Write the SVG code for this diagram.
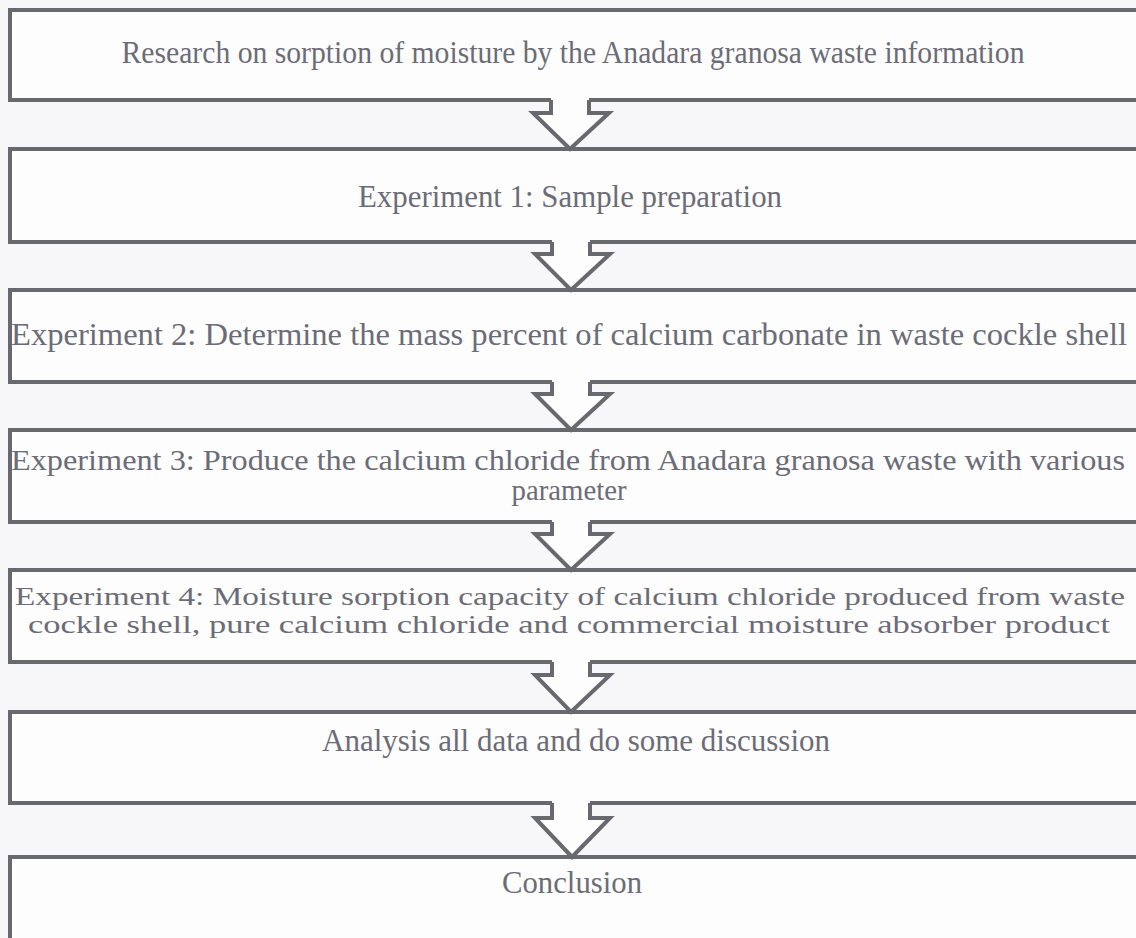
<svg xmlns="http://www.w3.org/2000/svg" width="1136" height="938" viewBox="0 0 1136 938">
<style>
.box{fill:#fdfdfe;stroke:#68686f;stroke-width:4}
.t{font-family:"Liberation Serif","Times New Roman",serif;font-size:31px;fill:#6c6c76;text-anchor:middle}
.s{font-size:29px}
.xs{font-size:26px}
.ah{fill:#fdfdfe;stroke:none}
.al{fill:none;stroke:#68686f;stroke-width:4;stroke-linejoin:miter}
</style>
<rect width="1136" height="938" fill="#f7f7f9"/>
<g id="n1"><rect class="box" x="10" y="10" width="1150" height="90"/><text class="t" x="573" y="63" textLength="903" lengthAdjust="spacingAndGlyphs">Research on sorption of moisture by the Anadara granosa waste information</text></g>
<g id="n2"><rect class="box" x="10" y="149" width="1150" height="93"/><text class="t" x="570" y="207" textLength="424" lengthAdjust="spacingAndGlyphs">Experiment 1: Sample preparation</text></g>
<g id="n3"><rect class="box" x="10" y="290" width="1150" height="92"/><text class="t" x="569" y="345" textLength="1116" lengthAdjust="spacingAndGlyphs">Experiment 2: Determine the mass percent of calcium carbonate in waste cockle shell</text></g>
<g id="n4"><rect class="box" x="10" y="430" width="1150" height="92"/><text class="t s" x="568" y="470" textLength="1114" lengthAdjust="spacingAndGlyphs">Experiment 3: Produce the calcium chloride from Anadara granosa waste with various</text><text class="t s" x="569" y="500" textLength="115" lengthAdjust="spacingAndGlyphs">parameter</text></g>
<g id="n5"><rect class="box" x="10" y="570" width="1150" height="92"/><text class="t xs" x="570" y="605" textLength="1110" lengthAdjust="spacingAndGlyphs">Experiment 4: Moisture sorption capacity of calcium chloride produced from waste</text><text class="t xs" x="569" y="633" textLength="1082" lengthAdjust="spacingAndGlyphs">cockle shell, pure calcium chloride and commercial moisture absorber product</text></g>
<g id="n6"><rect class="box" x="10" y="712" width="1150" height="91"/><text class="t" x="576" y="751" textLength="508" lengthAdjust="spacingAndGlyphs">Analysis all data and do some discussion</text></g>
<g id="n7"><rect class="box" x="10" y="857" width="1150" height="110"/><text class="t" x="572" y="893" textLength="140" lengthAdjust="spacingAndGlyphs">Conclusion</text></g>
<g id="connectors">
<path class="ah" d="M551,96 V113 H533 L570,149 L609,113 H589 V96 Z"/>
<path class="al" d="M551,100 V113 H533 L570,149 L609,113 H589 V100"/>
<path class="ah" d="M552,238 V254 H535 L571,290 L610,254 H590 V238 Z"/>
<path class="al" d="M552,242 V254 H535 L571,290 L610,254 H590 V242"/>
<path class="ah" d="M552,378 V394 H535 L571,430 L610,394 H590 V378 Z"/>
<path class="al" d="M552,382 V394 H535 L571,430 L610,394 H590 V382"/>
<path class="ah" d="M552,518 V534 H535 L571,570 L610,534 H590 V518 Z"/>
<path class="al" d="M552,522 V534 H535 L571,570 L610,534 H590 V522"/>
<path class="ah" d="M552,658 V675 H535 L571,712 L610,675 H590 V658 Z"/>
<path class="al" d="M552,662 V675 H535 L571,712 L610,675 H590 V662"/>
<path class="ah" d="M552,799 V818 H535 L572,857 L610,818 H590 V799 Z"/>
<path class="al" d="M552,803 V818 H535 L572,857 L610,818 H590 V803"/>
</g>
</svg>
